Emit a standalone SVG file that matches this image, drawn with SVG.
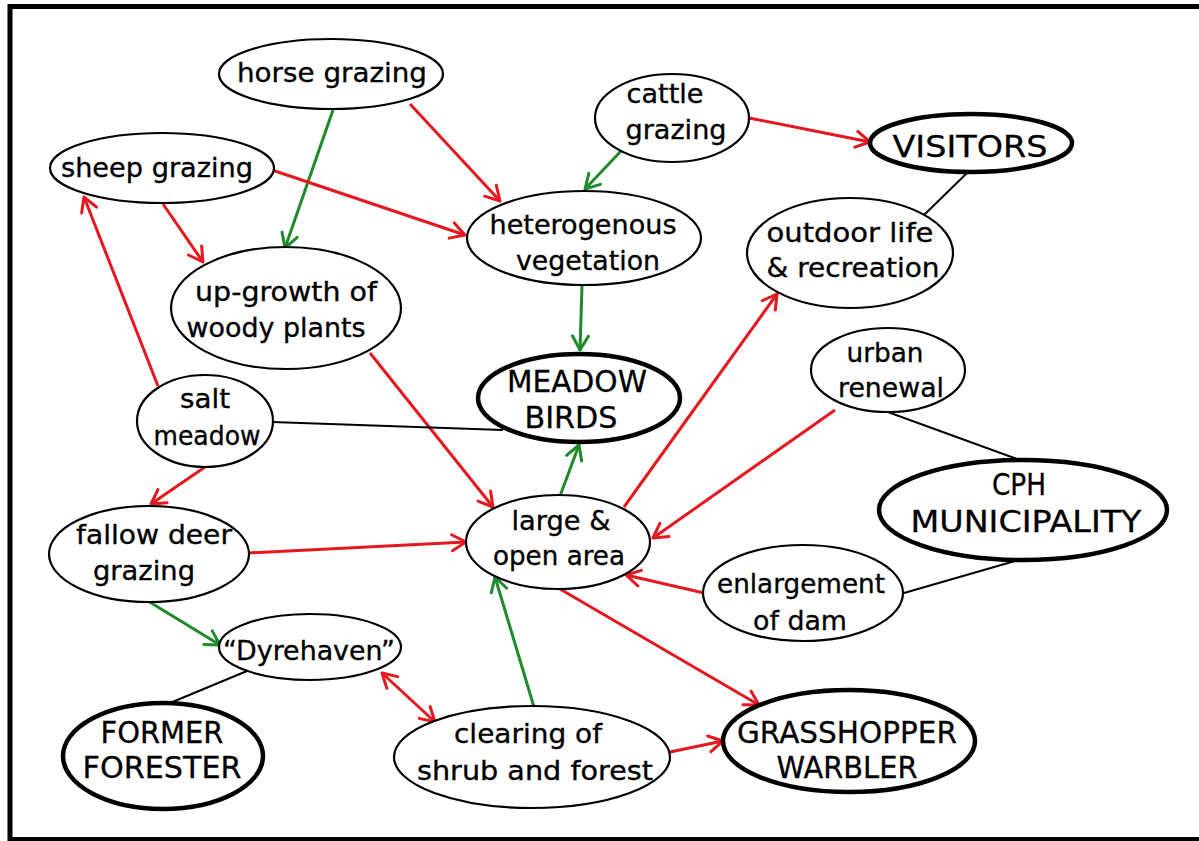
<svg xmlns="http://www.w3.org/2000/svg" width="1199" height="841" viewBox="0 0 1199 841">
  <style>
    .node { fill: #ffffff; stroke: #000000; stroke-width: 2.2; }
    .key { fill: #ffffff; stroke: #000000; stroke-width: 4.5; }
    .lbl { font-family: "DejaVu Sans", sans-serif; font-size: 27px; fill: #000000; stroke: #000000; stroke-width: 0.35; text-anchor: middle; }
    .cap { font-family: "DejaVu Sans", sans-serif; font-size: 30px; fill: #000000; stroke: #000000; stroke-width: 0.3; text-anchor: middle; }
    .neg { fill: none; stroke: #e5171f; stroke-width: 3; }
    .pos { fill: none; stroke: #1f8a2b; stroke-width: 3; }
    .link { fill: none; stroke: #000000; stroke-width: 2; }
  </style>
  <defs>
    <marker id="arrRed" markerUnits="userSpaceOnUse" markerWidth="20" markerHeight="20" viewBox="-16 -10 18 20" refX="0" refY="0" orient="auto-start-reverse">
      <path d="M-14,-8 L0,0 L-14,8" fill="none" stroke="#e5171f" stroke-width="3" stroke-linecap="round" stroke-linejoin="round"/>
    </marker>
    <marker id="arrGreen" markerUnits="userSpaceOnUse" markerWidth="20" markerHeight="20" viewBox="-16 -10 18 20" refX="0" refY="0" orient="auto">
      <path d="M-14,-8 L0,0 L-14,8" fill="none" stroke="#1f8a2b" stroke-width="3" stroke-linecap="round" stroke-linejoin="round"/>
    </marker>
  </defs>

  <rect x="0" y="0" width="1199" height="841" fill="#ffffff"/>
  <!-- outer frame -->
  <rect x="10" y="6.5" width="1200" height="833" fill="none" stroke="#000000" stroke-width="5"/>

  <g id="connectors">
    <path class="pos" d="M333,110 L285,248" marker-end="url(#arrGreen)"/>
    <path class="neg" d="M410,104 L500,201" marker-end="url(#arrRed)"/>
    <path class="neg" d="M272,170 L465,235" marker-end="url(#arrRed)"/>
    <path class="neg" d="M163,204 L203,262" marker-end="url(#arrRed)"/>
    <path class="neg" d="M158,386 L84,197" marker-end="url(#arrRed)"/>
    <path class="pos" d="M622,150 L585,189" marker-end="url(#arrGreen)"/>
    <path class="neg" d="M749,118 L870,142" marker-end="url(#arrRed)"/>
    <path class="link" d="M968,172 L924,215"/>
    <path class="pos" d="M582,285 L580,350" marker-end="url(#arrGreen)"/>
    <path class="neg" d="M624,507 L777,294" marker-end="url(#arrRed)"/>
    <path class="neg" d="M835,410 L653,538" marker-end="url(#arrRed)"/>
    <path class="link" d="M885,411 L1017,459"/>
    <path class="link" d="M1015,561 L904,593"/>
    <path class="neg" d="M704,593 L626,575" marker-end="url(#arrRed)"/>
    <path class="pos" d="M560,496 L579,445" marker-end="url(#arrGreen)"/>
    <path class="neg" d="M370,353 L493,507" marker-end="url(#arrRed)"/>
    <path class="link" d="M272,422 L503,430"/>
    <path class="neg" d="M205,467 L151,504" marker-end="url(#arrRed)"/>
    <path class="neg" d="M248,553 L466,542" marker-end="url(#arrRed)"/>
    <path class="pos" d="M148,601 L220,645" marker-end="url(#arrGreen)"/>
    <path class="link" d="M247,671 L170,703"/>
    <path class="neg" d="M382,673 L435,722" marker-start="url(#arrRed)" marker-end="url(#arrRed)"/>
    <path class="pos" d="M534,707 L495,577" marker-end="url(#arrGreen)"/>
    <path class="neg" d="M670,752 L723,741" marker-end="url(#arrRed)"/>
    <path class="neg" d="M560,589 L759,705" marker-end="url(#arrRed)"/>
  </g>

  <g id="horse-grazing">
    <ellipse class="node" cx="331" cy="74" rx="112" ry="35"/>
    <text class="lbl" x="332" y="82" textLength="190" lengthAdjust="spacingAndGlyphs">horse grazing</text>
  </g>
  <g id="sheep-grazing">
    <ellipse class="node" cx="162" cy="168" rx="112" ry="35"/>
    <text class="lbl" x="157" y="177" textLength="192" lengthAdjust="spacingAndGlyphs">sheep grazing</text>
  </g>
  <g id="cattle-grazing">
    <ellipse class="node" cx="672" cy="118" rx="77" ry="44"/>
    <text class="lbl" x="665" y="103" textLength="77" lengthAdjust="spacingAndGlyphs">cattle</text>
    <text class="lbl" x="676" y="139" textLength="101" lengthAdjust="spacingAndGlyphs">grazing</text>
  </g>
  <g id="visitors">
    <ellipse class="key" cx="971" cy="143" rx="101" ry="29"/>
    <text class="cap" x="970" y="157" textLength="155" lengthAdjust="spacingAndGlyphs">VISITORS</text>
  </g>
  <g id="heterogenous-vegetation">
    <ellipse class="node" cx="584" cy="238" rx="117" ry="47"/>
    <text class="lbl" x="583" y="234" textLength="187" lengthAdjust="spacingAndGlyphs">heterogenous</text>
    <text class="lbl" x="588" y="270" textLength="144" lengthAdjust="spacingAndGlyphs">vegetation</text>
  </g>
  <g id="outdoor-life">
    <ellipse class="node" cx="850" cy="253" rx="103" ry="55"/>
    <text class="lbl" x="850" y="242" textLength="167" lengthAdjust="spacingAndGlyphs">outdoor life</text>
    <text class="lbl" x="853" y="277" textLength="173" lengthAdjust="spacingAndGlyphs">&amp; recreation</text>
  </g>
  <g id="up-growth">
    <ellipse class="node" cx="286" cy="308" rx="115" ry="61"/>
    <text class="lbl" x="286" y="301" textLength="182" lengthAdjust="spacingAndGlyphs">up-growth of</text>
    <text class="lbl" x="276" y="337" textLength="179" lengthAdjust="spacingAndGlyphs">woody plants</text>
  </g>
  <g id="meadow-birds">
    <ellipse class="key" cx="579" cy="398" rx="101" ry="44"/>
    <text class="cap" x="577" y="392" textLength="140" lengthAdjust="spacingAndGlyphs">MEADOW</text>
    <text class="cap" x="571" y="428" textLength="93" lengthAdjust="spacingAndGlyphs">BIRDS</text>
  </g>
  <g id="urban-renewal">
    <ellipse class="node" cx="888" cy="370" rx="77" ry="42"/>
    <text class="lbl" x="885" y="362" textLength="77" lengthAdjust="spacingAndGlyphs">urban</text>
    <text class="lbl" x="891" y="397" textLength="106" lengthAdjust="spacingAndGlyphs">renewal</text>
  </g>
  <g id="salt-meadow">
    <ellipse class="node" cx="205" cy="421" rx="68" ry="46"/>
    <text class="lbl" x="205" y="408" textLength="50" lengthAdjust="spacingAndGlyphs">salt</text>
    <text class="lbl" x="207" y="445" textLength="107" lengthAdjust="spacingAndGlyphs">meadow</text>
  </g>
  <g id="cph-municipality">
    <ellipse class="key" cx="1023" cy="510" rx="144" ry="50"/>
    <text class="cap" x="1019" y="495" textLength="54" lengthAdjust="spacingAndGlyphs">CPH</text>
    <text class="cap" x="1026" y="532" textLength="231" lengthAdjust="spacingAndGlyphs">MUNICIPALITY</text>
  </g>
  <g id="large-open-area">
    <ellipse class="node" cx="558" cy="542" rx="92" ry="47"/>
    <text class="lbl" x="561" y="530" textLength="99" lengthAdjust="spacingAndGlyphs">large &amp;</text>
    <text class="lbl" x="559" y="565" textLength="132" lengthAdjust="spacingAndGlyphs">open area</text>
  </g>
  <g id="fallow-deer-grazing">
    <ellipse class="node" cx="149" cy="554" rx="100" ry="48"/>
    <text class="lbl" x="154" y="544" textLength="156" lengthAdjust="spacingAndGlyphs">fallow deer</text>
    <text class="lbl" x="144" y="580" textLength="102" lengthAdjust="spacingAndGlyphs">grazing</text>
  </g>
  <g id="enlargement-of-dam">
    <ellipse class="node" cx="803" cy="593" rx="100" ry="48"/>
    <text class="lbl" x="801" y="593" textLength="168" lengthAdjust="spacingAndGlyphs">enlargement</text>
    <text class="lbl" x="800" y="630" textLength="94" lengthAdjust="spacingAndGlyphs">of dam</text>
  </g>
  <g id="dyrehaven">
    <ellipse class="node" cx="310" cy="647" rx="91" ry="33"/>
    <text class="lbl" x="309" y="660" textLength="172" lengthAdjust="spacingAndGlyphs">“Dyrehaven”</text>
  </g>
  <g id="former-forester">
    <ellipse class="key" cx="163" cy="756" rx="100" ry="53"/>
    <text class="cap" x="162" y="743" textLength="123" lengthAdjust="spacingAndGlyphs">FORMER</text>
    <text class="cap" x="162" y="778" textLength="159" lengthAdjust="spacingAndGlyphs">FORESTER</text>
  </g>
  <g id="clearing">
    <ellipse class="node" cx="532" cy="757" rx="138" ry="51"/>
    <text class="lbl" x="528" y="743" textLength="148" lengthAdjust="spacingAndGlyphs">clearing of</text>
    <text class="lbl" x="535" y="780" textLength="236" lengthAdjust="spacingAndGlyphs">shrub and forest</text>
  </g>
  <g id="grasshopper-warbler">
    <ellipse class="key" cx="849" cy="741" rx="126" ry="51"/>
    <text class="cap" x="847" y="743" textLength="220" lengthAdjust="spacingAndGlyphs">GRASSHOPPER</text>
    <text class="cap" x="847" y="778" textLength="141" lengthAdjust="spacingAndGlyphs">WARBLER</text>
  </g>
</svg>
